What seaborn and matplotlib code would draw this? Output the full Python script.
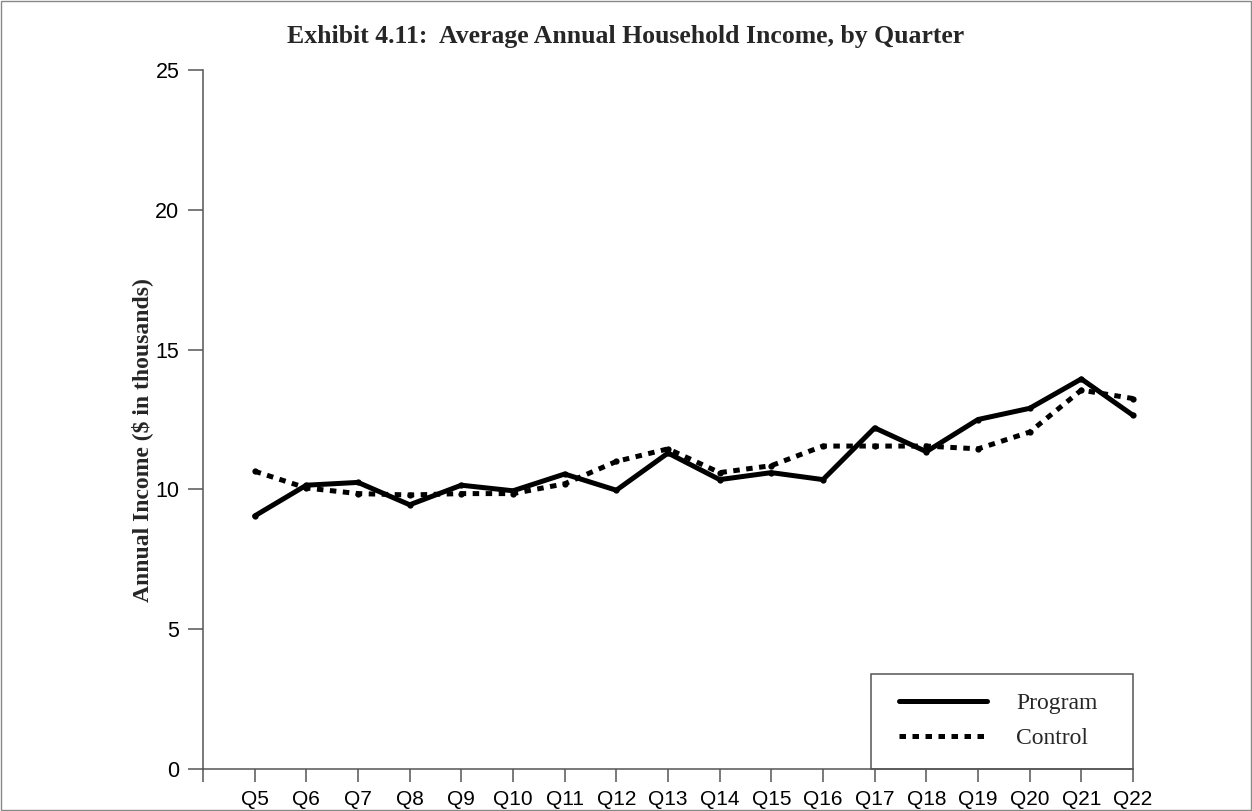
import pandas as pd
import seaborn as sns
import matplotlib.pyplot as plt
from matplotlib.lines import Line2D
from matplotlib.patches import Rectangle

quarters = ['Q5', 'Q6', 'Q7', 'Q8', 'Q9', 'Q10', 'Q11', 'Q12', 'Q13', 'Q14',
            'Q15', 'Q16', 'Q17', 'Q18', 'Q19', 'Q20', 'Q21', 'Q22']
program = [9.05, 10.15, 10.25, 9.45, 10.15, 9.95, 10.55, 9.97, 11.3, 10.35,
           10.6, 10.35, 12.2, 11.35, 12.5, 12.9, 13.95, 12.65]
control = [10.65, 10.05, 9.85, 9.8, 9.85, 9.85, 10.2, 11.0, 11.45, 10.6,
           10.85, 11.55, 11.55, 11.55, 11.45, 12.05, 13.55, 13.25]
groups = ['Program', 'Control']
y_ticks = [0, 5, 10, 15, 20, 25]

sns.set_theme(style='white')
plt.rcParams['font.family'] = ['Liberation Sans', 'DejaVu Sans']
plt.rcParams['lines.solid_joinstyle'] = 'round'

n = len(quarters)
df = pd.DataFrame({
    'pos': list(range(n)) * 2,
    'income': program + control,
    'group': ['Program'] * n + ['Control'] * n,
})

W, H = 1252, 811
fig = plt.figure(figsize=(W / 100, H / 100), dpi=100)
ax = fig.add_axes([203 / W, 42 / H, 930 / W, 699 / H])

dots = (1.3, 1.3)
sns.lineplot(data=df, x='pos', y='income', hue='group', style='group',
             hue_order=groups, style_order=groups,
             palette={'Program': 'black', 'Control': 'black'},
             dashes={'Program': '', 'Control': dots},
             markers={'Program': 'o', 'Control': 'o'},
             markersize=4.5, markeredgewidth=0,
             linewidth=3.6, legend=False, ax=ax)
for ln in ax.lines:
    ln.set_clip_on(False)

axis_col = '#555555'
ax.set_xlim(-1, n - 1)
ax.set_xticks(range(-1, n))
ax.set_xticklabels([''] + quarters)
ax.set_ylim(0, 25)
ax.set_yticks(y_ticks)
ax.set_xlabel('')
ax.set_ylabel('')
for s in ['top', 'right']:
    ax.spines[s].set_visible(False)
for s in ['left', 'bottom']:
    ax.spines[s].set_color(axis_col)
    ax.spines[s].set_linewidth(1.1)
ax.tick_params(axis='x', direction='out', length=9.4, width=1.1, color=axis_col,
               pad=5.5, labelsize=15, labelcolor='black', bottom=True)
ax.tick_params(axis='y', direction='out', length=11, width=1.1, color=axis_col,
               pad=6, labelsize=15.5, labelcolor='black', left=True)

# legend box
ax.add_patch(Rectangle((668 / 930, 0), 262 / 930, 95 / 699, transform=ax.transAxes,
                       fill=False, ec=axis_col, lw=1.1, clip_on=False))
handles = [Line2D([], [], color='black', lw=3.6),
           Line2D([], [], color='black', lw=3.6, dashes=dots)]
ax.legend(handles, groups, loc='center left', bbox_to_anchor=(696 / 930, 48 / 699),
          frameon=False, borderpad=0, borderaxespad=0, handlelength=3.73,
          handletextpad=1.23, labelspacing=0.59,
          prop={'family': 'Liberation Serif', 'size': 17})

fig.text(0.5, 1 - 43 / H, 'Exhibit 4.11:  Average Annual Household Income, by Quarter',
         ha='center', va='baseline', family='Liberation Serif', weight='bold', size=18.5)
fig.text(142 / W, 1 - 440 / H, 'Annual Income ($ in thousands)', rotation=90,
         ha='center', va='center', family='Liberation Serif', weight='bold', size=17)

fig.add_artist(Rectangle((0.001, 0.001), 0.998, 0.998, transform=fig.transFigure,
                         fill=False, ec='#888888', lw=1))

fig.savefig('out.png', dpi=100)
plt.close()
